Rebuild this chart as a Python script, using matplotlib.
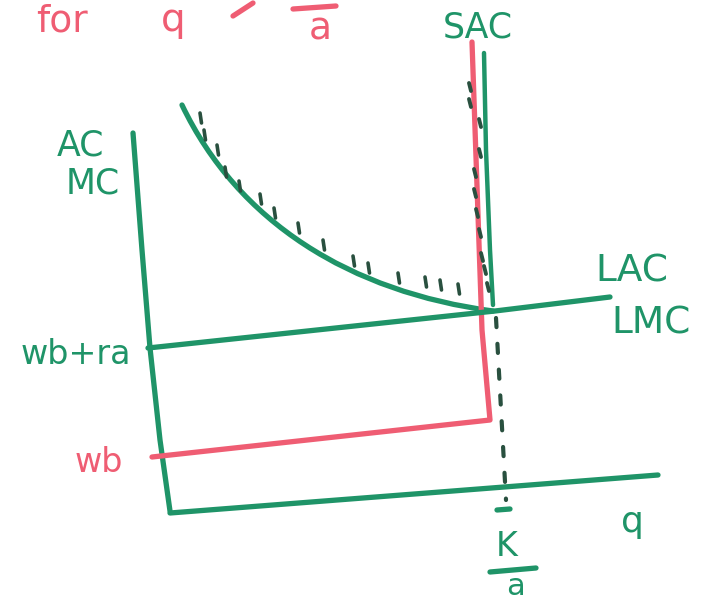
import numpy as np
import matplotlib
matplotlib.use("Agg")
import matplotlib.pyplot as plt
from matplotlib.path import Path
from matplotlib.patches import PathPatch

# ---- sketch geometry (canvas units, y grows downward) ----
# vertical axis (AC, MC) and horizontal axis (q)
y_axis_x = [133, 142, 150, 160, 170]
y_axis_y = [133, 250, 348, 440, 511]
q_axis_x = [170, 440, 658]
q_axis_y = [513, 492, 475]

# wb+ra level, continuing as LAC / LMC
lac_x = [148, 495, 610]
lac_y = [348, 311, 297]

# wb level and the red capacity wall
wb_x = [152, 490, 482, 472]
wb_y = [457, 420, 330, 42]

# short-run average cost: falling curve (cubic Bezier control points)
# then the near-vertical wall at K/a
sac_curve_x = [182, 238, 350, 493]
sac_curve_y = [105, 222, 292, 311]
sac_wall_x = [484, 486, 490, 493]
sac_wall_y = [53, 150, 250, 305]

# hatch marks above the curve
hatch_x = [200, 204, 217, 225, 239, 260, 274, 298, 323, 353, 368, 398, 425, 440, 458]
hatch_y = [118, 135, 150, 172, 186, 199, 213, 228, 245, 261, 268, 278, 282, 285, 289]

# dashes along the capacity wall
wall_dash_x = [470, 470, 480, 480, 475, 475, 477, 480, 482, 485, 488]
wall_dash_y = [87, 103, 123, 153, 173, 193, 213, 233, 257, 270, 287]

# dotted drop line at q = K/a
drop_x = [496, 506]
drop_y = [318, 500]

GREEN = "#1f9468"
RED = "#ef5d73"
DARK = "#29503f"
LW = 3.8

fig = plt.figure(figsize=(7.14, 6.0), dpi=100)
ax = fig.add_axes([0, 0, 1, 1])
ax.set_xlim(0, 714)
ax.set_ylim(600, 0)
ax.axis("off")

kw = dict(solid_capstyle="round", solid_joinstyle="round")
ax.plot(y_axis_x, y_axis_y, color=GREEN, lw=LW, **kw)
ax.plot(q_axis_x, q_axis_y, color=GREEN, lw=LW, **kw)
ax.plot(wb_x, wb_y, color=RED, lw=LW, **kw)
ax.plot(lac_x, lac_y, color=GREEN, lw=LW, **kw)

curve = Path(list(zip(sac_curve_x, sac_curve_y)),
             [Path.MOVETO, Path.CURVE4, Path.CURVE4, Path.CURVE4])
ax.add_patch(PathPatch(curve, facecolor="none", edgecolor=GREEN, lw=LW,
                       capstyle="round"))
ax.plot(sac_wall_x, sac_wall_y, color=GREEN, lw=LW - 0.6, **kw)

for hx, hy in zip(hatch_x, hatch_y):
    ax.plot([hx, hx + 1.5], [hy - 5, hy + 5], color=DARK, lw=2.6,
            solid_capstyle="round")
for dx, dy in zip(wall_dash_x, wall_dash_y):
    ax.plot([dx - 1, dx + 1], [dy - 4, dy + 4], color=DARK, lw=2.8,
            solid_capstyle="round")

ax.plot(drop_x, drop_y, color=DARK, lw=3.0, ls=(0, (2.2, 4.0)),
        dash_capstyle="round")

# labels
lab = dict(family="DejaVu Sans", ha="center", va="center")
ax.text(80, 145, "AC", color=GREEN, fontsize=25, **lab)
ax.text(93, 183, "MC", color=GREEN, fontsize=25, **lab)
ax.text(478, 28, "SAC", color=GREEN, fontsize=25, **lab)
ax.text(632, 271, "LAC", color=GREEN, fontsize=27, **lab)
ax.text(651, 323, "LMC", color=GREEN, fontsize=27, **lab)
ax.text(76, 355, "wb+ra", color=GREEN, fontsize=24, **lab)
ax.text(99, 462, "wb", color=RED, fontsize=24, **lab)
ax.text(632, 522, "q", color=GREEN, fontsize=26, **lab)

# K/a under the drop line
ax.text(507, 547, "K", color=GREEN, fontsize=24, **lab)
ax.plot([490, 536], [572, 568], color=GREEN, lw=LW, **kw)
ax.text(516, 595, "a", color=GREEN, fontsize=22, family="DejaVu Sans",
        ha="center", va="baseline")
ax.plot([497, 510], [510, 509], color=GREEN, lw=LW, **kw)

# heading "for q > K/a"
ax.text(62, 22, "for", color=RED, fontsize=27, **lab)
ax.text(173, 20, "q", color=RED, fontsize=28, **lab)
ax.plot([233, 253], [16, 3], color=RED, lw=LW, **kw)
ax.plot([293, 336], [9, 6], color=RED, lw=LW, **kw)
ax.text(320, 30, "a", color=RED, fontsize=27, **lab)

fig.savefig("out.png", dpi=100)
